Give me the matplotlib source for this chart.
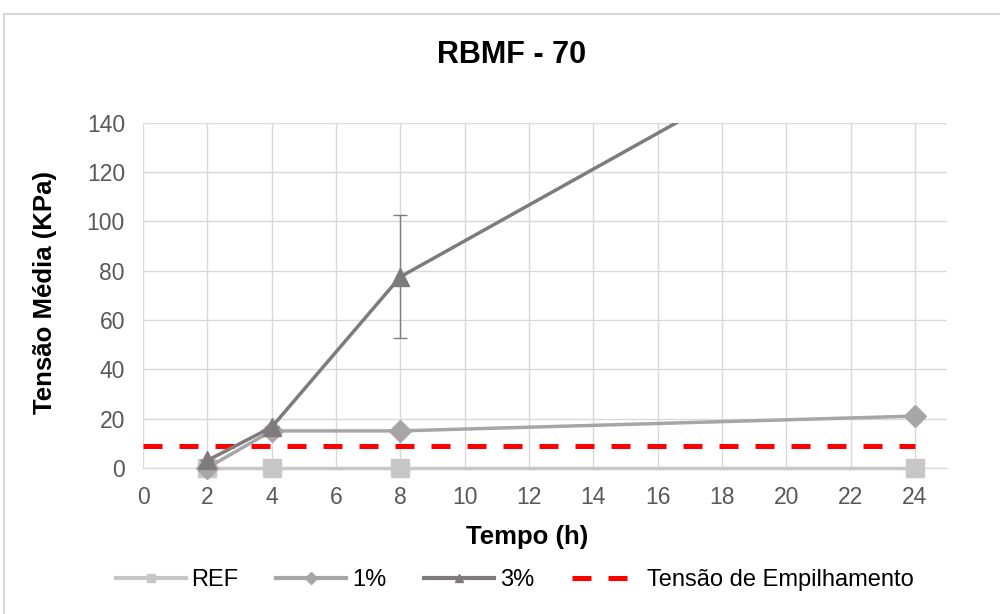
import numpy as np
import matplotlib.pyplot as plt
from matplotlib.patches import Rectangle
from matplotlib.lines import Line2D

plt.rcParams['font.family'] = ['Liberation Sans', 'DejaVu Sans']

tempo = np.array([2, 4, 8, 24])
ref = np.array([0, 0, 0, 0])
um_pct = np.array([0, 15, 15, 21])
tres_pct = np.array([3, 16.5, 77.5, 194])
tres_err = np.array([0, 0, 25, 0])
tensao_emp = 9

c_ref = '#C8C6C7'
c_1 = '#A7A5A6'
c_3 = '#7F7B7C'
c_red = '#FF0000'

fig = plt.figure(figsize=(10, 6.14), dpi=100)
ax = fig.add_axes([0.143, 0.238, 0.804, 0.562])

# borda do grafico
fig.patches.append(Rectangle((0.004, -0.01), 1.2, 0.988, transform=fig.transFigure,
                             fill=False, edgecolor='#D9D9D9', lw=1.5))

ax.plot([0, 24], [tensao_emp, tensao_emp], color=c_red, lw=3.6, ls=(0, (3.8, 3.4)), zorder=2)
ax.plot(tempo, ref, color=c_ref, lw=2.5, marker='s', ms=13, zorder=3, clip_on=False)
ax.plot(tempo, um_pct, color=c_1, lw=2.5, marker='D', ms=11, zorder=4, clip_on=False)
ax.errorbar(tempo, tres_pct, yerr=tres_err, color=c_3, lw=2.5, ecolor=c_3,
            elinewidth=1, capsize=5, capthick=1, zorder=5)
vis = tres_pct <= 140
ax.plot(tempo[vis], tres_pct[vis], ls='none', color=c_3, marker='^', ms=13,
        zorder=6, clip_on=False)

ax.set_xlim(0, 25)
ax.set_ylim(0, 140)
ax.set_xticks(np.arange(0, 25, 2))
ax.set_yticks(np.arange(0, 141, 20))
ax.grid(True, color='#D9D9D9', lw=1)
ax.set_axisbelow(True)
for s in ['top', 'right', 'left']:
    ax.spines[s].set_visible(False)
ax.spines['bottom'].set_color('#D9D9D9')
ax.tick_params(length=0, labelsize=16.5, colors='#595959', pad=13)

fig.text(0.512, 0.91, 'RBMF - 70', fontsize=22, fontweight='bold', ha='center', va='center')
fig.text(0.527, 0.125, 'Tempo (h)', fontsize=18.5, fontweight='bold', ha='center', va='center')
fig.text(0.045, 0.524, 'Tensão Média (KPa)', fontsize=18.5, fontweight='bold',
         ha='center', va='center', rotation=90)

handles = [
    Line2D([], [], color=c_ref, lw=3, marker='s', ms=6),
    Line2D([], [], color=c_1, lw=3, marker='D', ms=6),
    Line2D([], [], color=c_3, lw=3, marker='^', ms=6),
    Line2D([], [], color=c_red, lw=3.6, ls=(0, (3.8, 3.4))),
]
labels = ['REF', '1%', '3%', 'Tensão de Empilhamento']
fig.legend(handles, labels, loc='center', bbox_to_anchor=(0.515, 0.055), ncol=4,
           frameon=False, fontsize=17, handlelength=2.95, columnspacing=1.6,
           handletextpad=0.25, borderpad=0)

fig.savefig('out.png', dpi=100)
